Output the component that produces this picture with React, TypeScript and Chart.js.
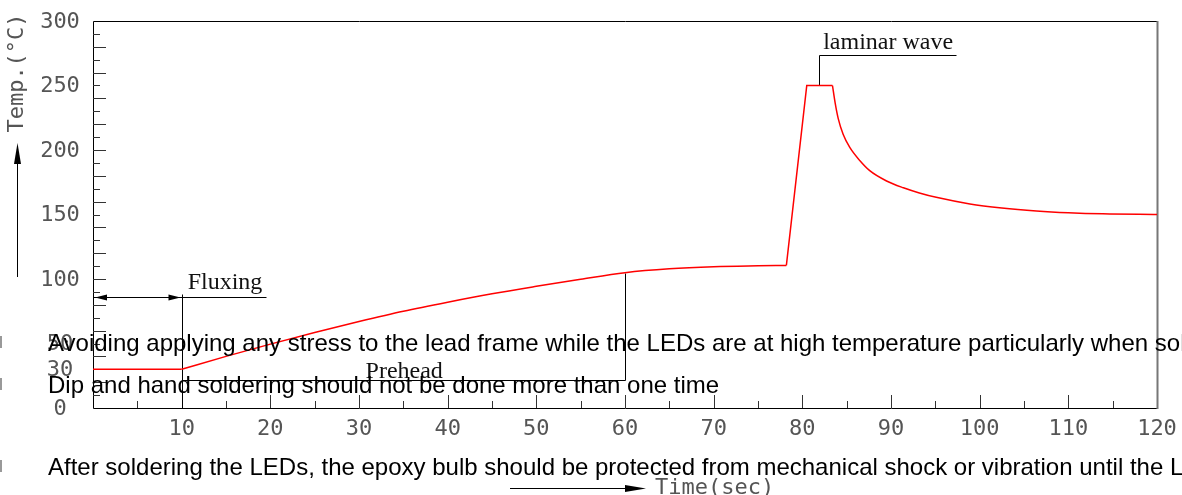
import React, { useEffect, useRef } from "react";
import { Chart, registerables } from "chart.js";

Chart.register(...registerables);

// ---- data ----
const timeSec = [0, 10, 15, 20, 25, 30, 35, 40, 45, 50, 55, 60, 65, 70, 75, 78.2, 80.5, 83.4, 83.7, 84.05, 84.6, 85.35, 86.5, 87.6, 89.5, 91.4, 93.2, 95.1, 98.9, 102.5, 106.4, 110, 113.9, 120];
const tempC = [30, 30, 40, 49.5, 58.5, 67, 75, 82, 88.5, 94.3, 99.8, 104.9, 107.9, 109.5, 110.2, 110.5, 250, 250, 236.5, 224.3, 212.2, 202, 191.7, 184, 176, 170.7, 166.7, 163.3, 158.2, 155.1, 152.8, 151.4, 150.5, 150];
// index ranges of the profile: which stretches are straight and which are smooth curves
const straightRuns = [[0, 1], [15, 17]];
const smoothRuns = [[1, 15], [17, 33]];

const xTickLabels = [10, 20, 30, 40, 50, 60, 70, 80, 90, 100, 110, 120];
const yTickLabels = [0, 30, 50, 100, 150, 200, 250, 300];
const xTitle = "Time(sec)";
const yTitle = "Temp.(°C)";

// annotation values (in data units)
const fluxingEnd = 10;
const fluxingLevel = 86;
const fluxingLineEnd = 19.5;
const preheatEnd = 60;
const preheatLevel = 21.5;
const preheatTop = 105;
const laminarX = 81.9;
const laminarTop = 273.3;
const laminarLineEnd = 97.3;
const annotationTexts = ["Fluxing", "Prehead", "laminar wave"];

const noteLines = [
  "Avoiding applying any stress to the lead frame while the LEDs are at high temperature particularly when soldering.",
  "Dip and hand soldering should not be done more than one time",
  "After soldering the LEDs, the epoxy bulb should be protected from mechanical shock or vibration until the LEDs return to room temperature.",
];

const CAD_FONT = "22px 'DejaVu Sans Mono', monospace";
const CAD_COLOR = "#555";

function arrowHead(ctx: CanvasRenderingContext2D, tx: number, ty: number, dir: "left" | "right" | "up", len: number, half: number) {
  ctx.beginPath();
  ctx.moveTo(tx, ty);
  if (dir === "left") {
    ctx.lineTo(tx + len, ty - half);
    ctx.lineTo(tx + len, ty + half);
  } else if (dir === "right") {
    ctx.lineTo(tx - len, ty - half);
    ctx.lineTo(tx - len, ty + half);
  } else {
    ctx.lineTo(tx - half, ty + len);
    ctx.lineTo(tx + half, ty + len);
  }
  ctx.closePath();
  ctx.fill();
}

const cadPlugin = {
  id: "cadFrame",
  beforeDatasetsDraw(chart: any) {
    const { ctx, chartArea: a, scales } = chart;
    const x = scales.x;
    const y = scales.y;
    const px = (v: number) => Math.round(x.getPixelForValue(v)) + 0.5;
    const py = (v: number) => Math.round(y.getPixelForValue(v)) + 0.5;
    ctx.save();

    // frame
    ctx.strokeStyle = "#000";
    ctx.lineWidth = 1;
    ctx.beginPath();
    ctx.moveTo(a.left + 0.5, a.bottom + 0.5);
    ctx.lineTo(a.left + 0.5, a.top + 0.5);
    ctx.lineTo(a.right + 0.5, a.top + 0.5);
    ctx.moveTo(a.left + 0.5, a.bottom + 0.5);
    ctx.lineTo(a.right + 0.5, a.bottom + 0.5);
    ctx.stroke();
    ctx.strokeStyle = "#777";
    ctx.lineWidth = 2;
    ctx.beginPath();
    ctx.moveTo(a.right + 0.5, a.top);
    ctx.lineTo(a.right + 0.5, a.bottom + 1);
    ctx.stroke();

    // inward ticks
    ctx.strokeStyle = "#333";
    ctx.lineWidth = 1;
    ctx.beginPath();
    for (let v = 5; v < 120; v += 5) {
      const len = v % 10 === 0 ? 13 : 7;
      ctx.moveTo(px(v), a.bottom);
      ctx.lineTo(px(v), a.bottom - len);
    }
    for (let v = 10; v < 300; v += 10) {
      const len = v % 20 === 0 ? 13 : 7;
      ctx.moveTo(a.left, py(v));
      ctx.lineTo(a.left + len, py(v));
    }
    ctx.stroke();

    // tick labels
    ctx.font = CAD_FONT;
    ctx.fillStyle = CAD_COLOR;
    ctx.textAlign = "center";
    ctx.textBaseline = "middle";
    xTickLabels.forEach((v) => ctx.fillText(String(v), x.getPixelForValue(v), a.bottom + 21));
    yTickLabels.forEach((v) => ctx.fillText(String(v), a.left - 33, y.getPixelForValue(v) + 1));

    // axis titles and arrows
    ctx.save();
    ctx.translate(a.left - 76, a.top + 52);
    ctx.rotate(-Math.PI / 2);
    ctx.fillText(yTitle, 0, 0);
    ctx.restore();
    ctx.strokeStyle = "#000";
    ctx.fillStyle = "#000";
    ctx.beginPath();
    ctx.moveTo(a.left - 75.5, a.top + 140);
    ctx.lineTo(a.left - 75.5, a.top + 256);
    ctx.stroke();
    arrowHead(ctx, a.left - 75.5, a.top + 122, "up", 21, 3.5);

    ctx.beginPath();
    ctx.moveTo(510, a.bottom + 80.5);
    ctx.lineTo(630, a.bottom + 80.5);
    ctx.stroke();
    arrowHead(ctx, 646, a.bottom + 80.5, "right", 21, 3.5);
    ctx.fillStyle = CAD_COLOR;
    ctx.textAlign = "left";
    ctx.fillText(xTitle, 655, a.bottom + 80);

    // annotations
    ctx.strokeStyle = "#000";
    ctx.fillStyle = "#000";
    ctx.lineWidth = 1;
    ctx.beginPath();
    // fluxing
    ctx.moveTo(a.left, py(fluxingLevel));
    ctx.lineTo(px(fluxingLineEnd), py(fluxingLevel));
    ctx.moveTo(px(fluxingEnd), py(fluxingLevel + 2));
    ctx.lineTo(px(fluxingEnd), a.bottom);
    // preheat
    ctx.moveTo(px(fluxingEnd), py(preheatLevel));
    ctx.lineTo(px(preheatEnd), py(preheatLevel));
    ctx.moveTo(px(preheatEnd), py(preheatTop));
    ctx.lineTo(px(preheatEnd), py(preheatLevel));
    // laminar
    ctx.moveTo(px(laminarX), y.getPixelForValue(250));
    ctx.lineTo(px(laminarX), py(laminarTop));
    ctx.lineTo(px(laminarLineEnd), py(laminarTop));
    ctx.stroke();
    arrowHead(ctx, a.left + 2, py(fluxingLevel), "left", 12, 3);
    arrowHead(ctx, px(fluxingEnd) - 2, py(fluxingLevel), "right", 12, 3);

    ctx.font = "24px 'Liberation Serif', 'Times New Roman', serif";
    ctx.fillStyle = "#111";
    ctx.textAlign = "left";
    ctx.textBaseline = "alphabetic";
    ctx.fillText(annotationTexts[0], x.getPixelForValue(fluxingEnd) + 6, py(fluxingLevel) - 9);
    ctx.textAlign = "center";
    ctx.fillText(annotationTexts[1], x.getPixelForValue(35.1), py(preheatLevel) - 3);
    ctx.textAlign = "left";
    ctx.fillText(annotationTexts[2], x.getPixelForValue(laminarX) + 4, py(laminarTop) - 7);

    ctx.restore();
  },
};

function run(from: number, to: number) {
  const pts = [];
  for (let i = from; i <= to; i++) pts.push({ x: timeSec[i], y: tempC[i] });
  return pts;
}

export default function App() {
  const ref = useRef<HTMLCanvasElement>(null);

  useEffect(() => {
    if (!ref.current) return;
    const base = { borderColor: "#ff0000", borderWidth: 1.5, pointRadius: 0, fill: false };
    const datasets: any[] = [
      ...straightRuns.map(([f, t]) => ({ ...base, data: run(f, t), tension: 0 })),
      ...smoothRuns.map(([f, t]) => ({ ...base, data: run(f, t), cubicInterpolationMode: "monotone" })),
    ];
    const chart = new Chart(ref.current, {
      type: "line",
      data: { datasets },
      options: {
        responsive: false,
        animation: false,
        devicePixelRatio: 1,
        layout: { padding: { left: 93, top: 21, right: 25, bottom: 87 } },
        plugins: { legend: { display: false }, tooltip: { enabled: false } },
        scales: {
          x: { type: "linear", min: 0, max: 120, display: false },
          y: { type: "linear", min: 0, max: 300, display: false },
        },
      },
      plugins: [cadPlugin],
    });
    return () => chart.destroy();
  }, []);

  const noteTops = [331, 373, 455];
  return (
    <div
      style={{
        position: "absolute",
        left: 0,
        top: 0,
        width: 1182,
        height: 495,
        overflow: "hidden",
        background: "#fff",
      }}
    >
      <canvas ref={ref} width={1182} height={495} style={{ position: "absolute", left: 0, top: 0, width: 1182, height: 495 }} />
      {noteLines.map((line, i) => (
        <React.Fragment key={i}>
          <div
            style={{
              position: "absolute",
              left: 0,
              top: noteTops[i] + 5,
              width: 2,
              height: 12,
              background: "#999",
            }}
          />
          <div
            style={{
              position: "absolute",
              left: 48,
              top: noteTops[i],
              whiteSpace: "nowrap",
              fontFamily: "'Liberation Sans', Arial, sans-serif",
              fontSize: 24,
              lineHeight: "24px",
              color: "#000",
            }}
          >
            {line}
          </div>
        </React.Fragment>
      ))}
    </div>
  );
}
